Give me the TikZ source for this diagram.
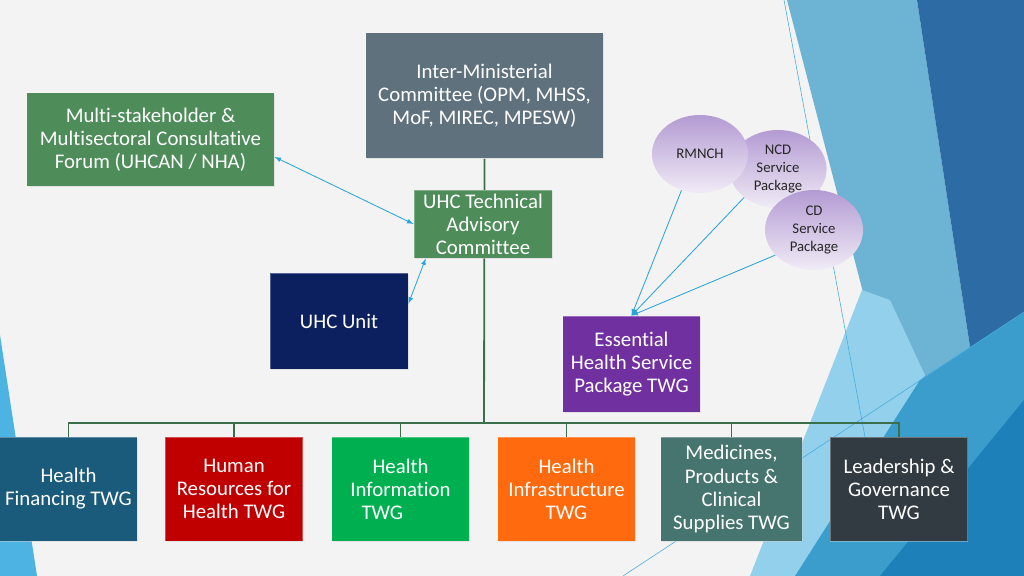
\documentclass[tikz,border=0pt]{standalone}
\usepackage{fontspec}
\setmainfont{Carlito}[Ligatures=NoCommon]
\usetikzlibrary{shapes.geometric,shadows,positioning}

\definecolor{slidegrey}{HTML}{F3F3F3}
\definecolor{facetleft}{HTML}{4DB3E2}
\definecolor{facetlight}{HTML}{6DB3D3}
\definecolor{facetdark}{HTML}{2C6BA3}
\definecolor{facetcyan}{HTML}{92D0EB}
\definecolor{facetmid}{HTML}{3A9DCC}
\definecolor{facetdeep}{HTML}{1D80B8}
\definecolor{facetline}{HTML}{45ACDE}
\definecolor{imcgrey}{HTML}{5F717D}
\definecolor{forumgreen}{HTML}{4E8C59}
\definecolor{unitnavy}{HTML}{0C205F}
\definecolor{esspurple}{HTML}{7030A0}
\definecolor{hfblue}{HTML}{1A5A7B}
\definecolor{hrred}{HTML}{C00000}
\definecolor{higreen}{HTML}{00B050}
\definecolor{hiorange}{HTML}{FF6A0E}
\definecolor{mpteal}{HTML}{46756F}
\definecolor{lgslate}{HTML}{313B41}
\definecolor{treegreen}{HTML}{3B6E4A}
\definecolor{linkblue}{HTML}{2AA4DC}
\definecolor{pkgtop}{HTML}{B39BD3}
\definecolor{pkgbot}{HTML}{F1EBF6}

\pgfdeclarelayer{back}
\pgfdeclarelayer{edges}
\pgfsetlayers{back,edges,main}

\tikzset{
    box/.style={rectangle, draw=white, draw opacity=0.3, line width=0.6pt,
        text=white, align=center, inner sep=0pt,
        font=\fontsize{14.8}{16.4}\selectfont,
        drop shadow={opacity=0.25, shadow xshift=0.6pt, shadow yshift=-0.8pt}},
    twg/.style={box, minimum width=3.43cm, minimum height=2.6cm},
    pkg/.style={ellipse, top color=pkgtop, bottom color=pkgbot, draw=none,
        text=black!85, align=center, inner sep=0pt,
        font=\fontsize{10.5}{12.8}\selectfont},
    tree/.style={treegreen, line width=1.3pt},
    link/.style={linkblue, line width=0.6pt, >=latex},
    thinfacet/.style={facetline, line width=0.4pt}
}

\begin{document}
\begin{tikzpicture}[x=0.025cm, y=-0.025cm]
    \useasboundingbox (0,0) rectangle (1024,576);

    % Background
    \begin{pgfonlayer}{back}
        \fill[slidegrey] (0,0) rectangle (1024,576);

        %% Facets
        \fill[facetleft] (0,335) -- (37,576) -- (0,576) -- cycle;
        \fill[facetlight] (787,0) -- (917,0) -- (1005,576) -- (880,576) -- (865,300) -- cycle;
        \fill[facetdark] (917,0) -- (1024,0) -- (1024,576) -- (1005,576) -- cycle;
        \fill[facetcyan] (862,290) -- (890,300) -- (925,375) -- (795,576) -- (750,576) -- cycle;
        \fill[facetmid] (795,576) -- (920,380) -- (1024,312) -- (1024,576) -- cycle;
        \fill[facetdeep] (880,576) -- (1024,400) -- (1024,576) -- cycle;

        %% Lines
        \draw[thinfacet] (784,0) -- (865,437);
        \draw[thinfacet] (623,576) -- (1024,312);
    \end{pgfonlayer}

    % Committees
    \node[box, fill=imcgrey, minimum width=5.93cm, minimum height=3.13cm] (imc) at (484.5,95.5)
        {Inter-Ministerial\\Committee (OPM, MHSS,\\MoF, MIREC, MPESW)};
    \node[box, fill=forumgreen, minimum width=6.18cm, minimum height=2.33cm] (forum) at (150.5,139.5)
        {Multi-stakeholder \&\\Multisectoral Consultative\\Forum (UHCAN / NHA)};
    \node[box, fill=forumgreen, minimum width=3.45cm, minimum height=1.7cm] (tac) at (483,224)
        {UHC Technical\\Advisory\\Committee};
    \node[box, fill=unitnavy, minimum width=3.45cm, minimum height=2.4cm] (unit) at (339,321)
        {UHC Unit};
    \node[box, fill=esspurple, minimum width=3.43cm, minimum height=2.4cm] (ess) at (631.5,364)
        {Essential\\Health Service\\Package TWG};

    % Service packages
    \node[pkg, minimum width=2.43cm, minimum height=1.95cm] (ncd) at (778,169) {NCD\\Service\\Package};
    \node[pkg, minimum width=2.4cm, minimum height=1.95cm] (rmnch) at (700,154) {RMNCH};
    \node[pkg, minimum width=2.45cm, minimum height=2cm] (cd) at (814,230) {CD\\Service\\Package};

    % Working groups
    \node[twg, fill=hfblue] (hf) at (68.5,489) {Health\\Financing TWG};
    \node[twg, fill=hrred] (hr) at (234,489) {Human\\Resources for\\Health TWG};
    \node[twg, fill=higreen] (hi) at (400.5,489) {Health\\Information\\TWG\hspace*{1.75em}};
    \node[twg, fill=hiorange] (hinf) at (566.5,489) {Health\\Infrastructure\\TWG};
    \node[twg, fill=mpteal, minimum width=3.53cm] (mps) at (731.5,489)
        {Medicines,\\Products \&\\Clinical\\Supplies TWG};
    \node[twg, fill=lgslate] (lg) at (899,489) {Leadership \&\\Governance\\TWG};

    % Tree
    \begin{pgfonlayer}{edges}
        \coordinate (bus) at (484,423);
        \draw[tree] (imc.south) -- (bus);
        \foreach \t in {hf,hr,hi,hinf,mps,lg}
            \draw[tree] (\t.north) |- (bus);
    \end{pgfonlayer}

    % Links
    \draw[link, <->] (forum.-8) -- (tac.west);
    \draw[link, <->] (unit.14) -- (tac.211);
    \foreach \p/\a in {rmnch/243, ncd/220, cd/213}
        \draw[link, ->] (\p.\a) -- (ess.north);
\end{tikzpicture}
\end{document}
